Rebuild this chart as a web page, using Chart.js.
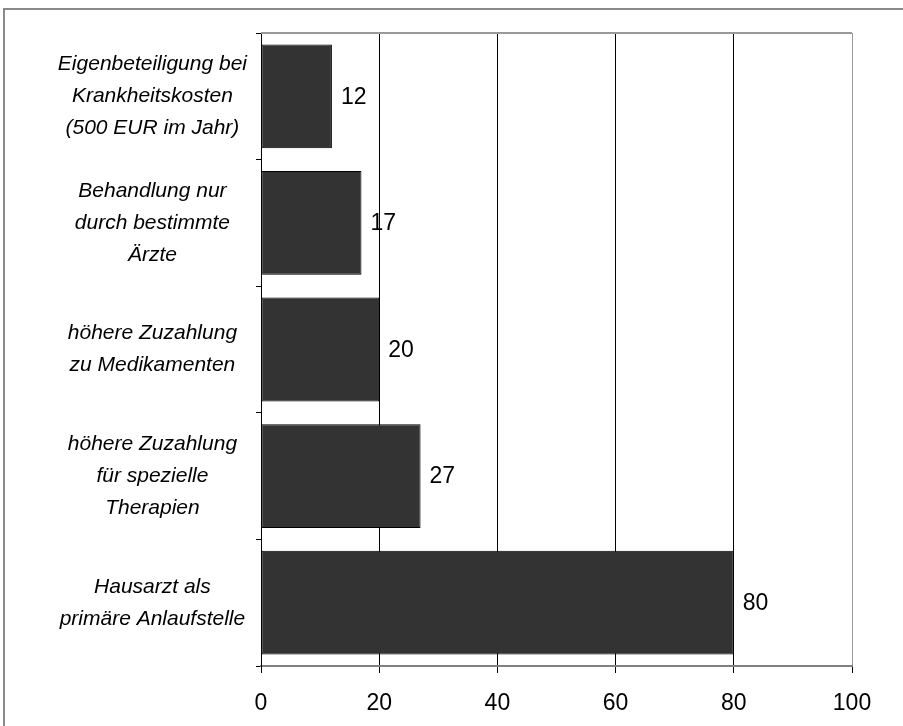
<!DOCTYPE html>
<html><head><meta charset="utf-8">
<script src="https://cdn.jsdelivr.net/npm/chart.js@4"></script>
<style>html,body{margin:0;padding:0;background:#fff}canvas{display:block}</style>
</head><body>
<canvas id="c" width="903" height="726"></canvas>
<script>
const categories = [
  ["Eigenbeteiligung bei", "Krankheitskosten", "(500 EUR im Jahr)"],
  ["Behandlung nur", "durch bestimmte", "Ärzte"],
  ["höhere Zuzahlung", "zu Medikamenten"],
  ["höhere Zuzahlung", "für spezielle", "Therapien"],
  ["Hausarzt als", "primäre Anlaufstelle"]
];
const values = [12, 17, 20, 27, 80];
const xMin = 0, xMax = 100, xStep = 20;

const FONT = "'Liberation Sans', Arial, sans-serif";

const deco = {
  id: 'deco',
  beforeDraw(chart) {
    const c = chart.ctx;
    c.save(); c.fillStyle = '#fff'; c.fillRect(0, 0, chart.width, chart.height); c.restore();
  },
  afterDatasetsDraw(chart) {
    const c = chart.ctx;
    const meta = chart.getDatasetMeta(0);
    c.save();
    c.font = '23px ' + FONT;
    c.fillStyle = '#000';
    c.textAlign = 'left';
    c.textBaseline = 'middle';
    meta.data.forEach((el, i) => {
      c.fillText(String(values[i]), el.x + 9, el.y + 1);
    });
    c.restore();
  },
  afterDraw(chart) {
    const c = chart.ctx, a = chart.chartArea;
    c.save();
    c.strokeStyle = '#999';
    c.lineWidth = 2;
    c.beginPath();
    c.moveTo(a.left, a.top); c.lineTo(a.right, a.top);
    c.stroke();
    c.strokeStyle = '#8a8a8a';
    c.lineWidth = 2;
    c.strokeRect(4, 9, 1200, 1200);
    c.restore();
  }
};

new Chart(document.getElementById('c'), {
  type: 'bar',
  data: {
    labels: categories,
    datasets: [{
      data: values,
      backgroundColor: '#333333',
      borderColor: '#000',
      borderWidth: 1,
      borderSkipped: false,
      barPercentage: 0.82,
      categoryPercentage: 1
    }]
  },
  options: {
    indexAxis: 'y',
    responsive: false,
    animation: false,
    devicePixelRatio: 1,
    layout: { padding: { top: 33, right: 51, left: 0, bottom: 0 } },
    plugins: { legend: { display: false }, tooltip: { enabled: false } },
    scales: {
      x: {
        min: xMin, max: xMax,
        afterFit(s) { s.height = 60; s.paddingLeft = 0; s.paddingRight = 0; },
        ticks: { stepSize: xStep, color: '#000', font: { family: FONT, size: 23 }, padding: 17, maxRotation: 0 },
        grid: {
          color: (ctx) => (ctx.tick && ctx.tick.value === xMax) ? '#999' : '#000',
          tickColor: '#000',
          tickLength: 7,
          lineWidth: 1
        },
        border: { color: '#808080', width: 2 }
      },
      y: {
        afterFit(s) { s.width = 261; s.paddingTop = 0; s.paddingBottom = 0; },
        ticks: {
          color: '#000',
          crossAlign: 'center',
          padding: 9,
          autoSkip: false,
          font: { family: FONT, size: 21, style: 'italic', lineHeight: 1.524 }
        },
        grid: { drawOnChartArea: false, offset: true, tickLength: 5, color: '#000' },
        border: { color: '#000', width: 1 }
      }
    }
  },
  plugins: [deco]
});
</script>
</body></html>
